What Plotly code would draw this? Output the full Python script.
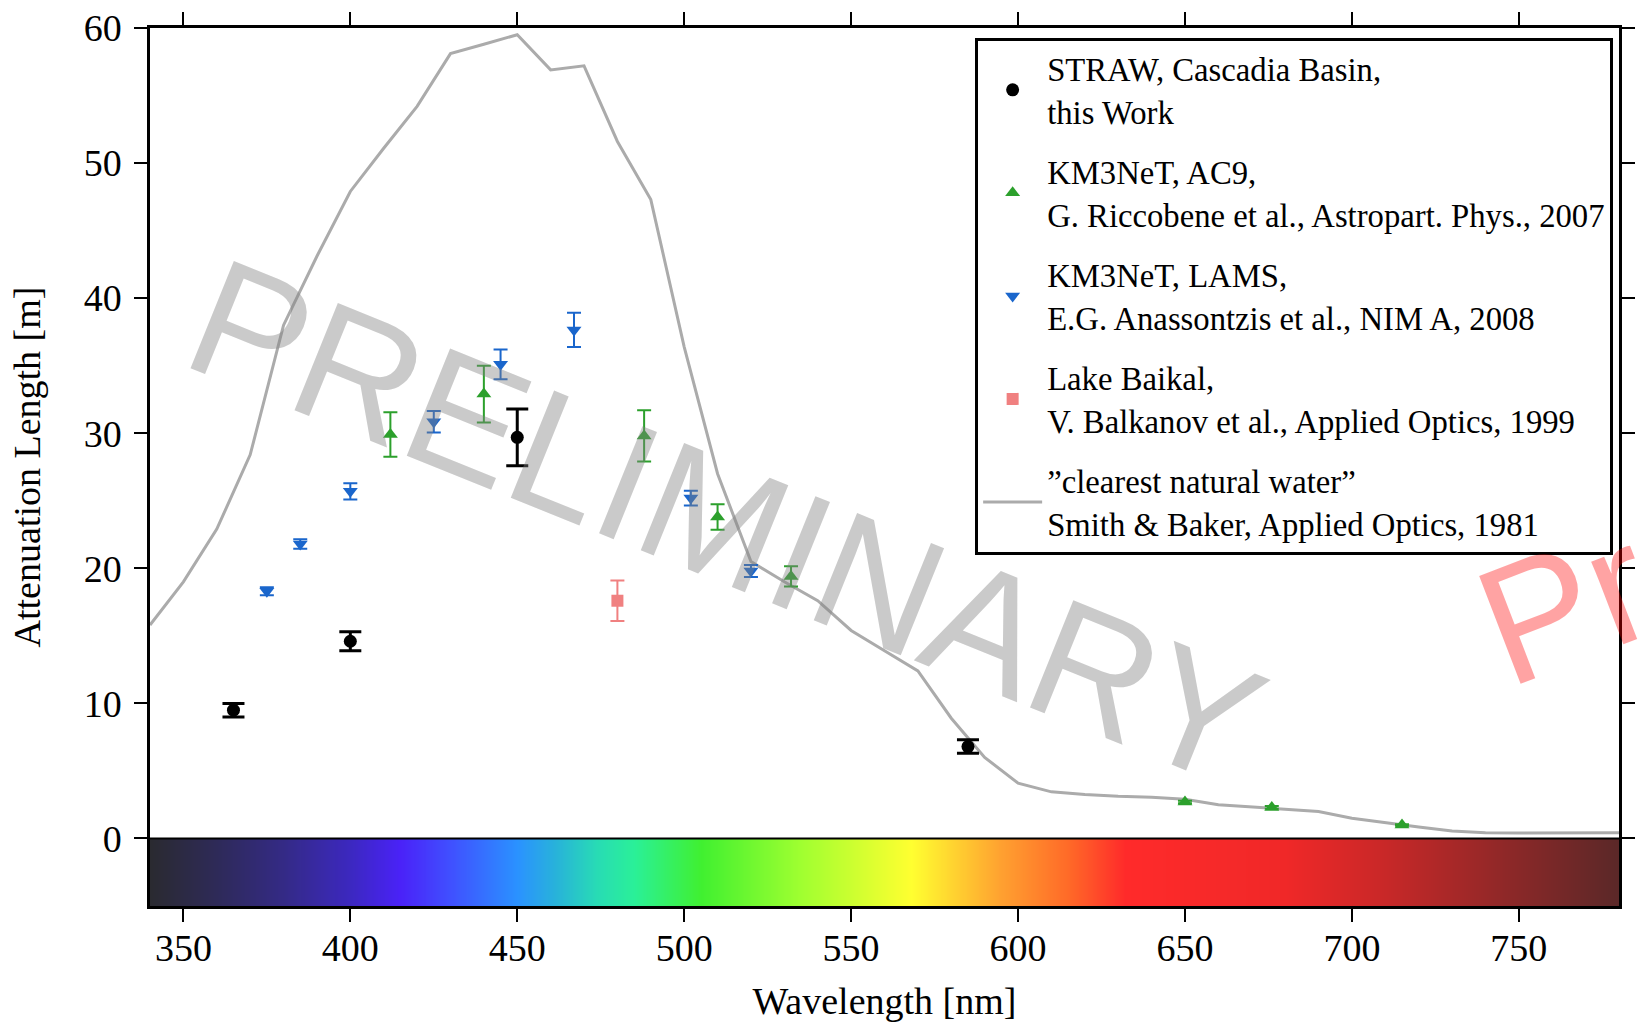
import numpy as np
import plotly.graph_objects as go

# ---- Smith & Baker "clearest natural water" attenuation length ----
sb_wl = [340, 350, 360, 370, 380, 390, 400, 410, 420, 430, 440, 450, 460, 470,
         480, 490, 500, 510, 520, 530, 540, 550, 560, 570, 580, 590, 600, 610,
         620, 630, 640, 650, 660, 670, 680, 690, 700, 710, 720, 730, 740, 750,
         760, 770, 780]
sb_len = [15.8, 19.0, 22.9, 28.4, 38.0, 43.1, 47.9, 51.1, 54.2, 58.1, 58.8, 59.5,
          56.9, 57.2, 51.6, 47.3, 36.4, 27.0, 20.5, 19.0, 17.6, 15.4, 13.9, 12.4,
          8.9, 6.0, 4.1, 3.45, 3.25, 3.12, 3.05, 2.9, 2.5, 2.33, 2.2, 2.0, 1.5,
          1.15, 0.85, 0.56, 0.43, 0.40, 0.39, 0.40, 0.42]

# ---- STRAW, Cascadia Basin ----
straw_wl = [365, 400, 450, 585]
straw_len = [9.5, 14.6, 29.7, 6.8]
straw_err = [0.5, 0.7, 2.1, 0.5]

# ---- KM3NeT AC9 ----
ac9_wl = [412, 440, 488, 510, 532, 650, 676, 715]
ac9_len = [29.9, 32.9, 29.8, 23.8, 19.4, 2.7, 2.3, 1.0]
ac9_err = [1.65, 2.1, 1.9, 0.95, 0.75, 0.1, 0.1, 0.05]

# ---- KM3NeT LAMS ----
lams_wl = [375, 385, 400, 425, 445, 467, 502, 520]
lams_len = [18.3, 21.8, 25.7, 30.85, 35.1, 37.65, 25.2, 19.8]
lams_err = [0.3, 0.35, 0.6, 0.8, 1.1, 1.27, 0.55, 0.45]

# ---- Lake Baikal ----
baikal_wl = [480]
baikal_len = [17.6]
baikal_err = [1.5]

# ---- spectrum colour band ----
spec_wl = [340, 360, 380, 400, 415, 430, 450, 462, 474, 485, 505, 535, 568,
           595, 615, 632, 680, 710, 745, 780]
spec_col = ["#2a2a30", "#2e2a58", "#342a86", "#3c28c0", "#4a22f8", "#4050ff",
            "#2a92ff", "#28b4d8", "#28dcb4", "#2af098", "#40f030", "#a0ff30",
            "#ffff30", "#ffa030", "#ff6a28", "#ff2a2a", "#f02828", "#c82828",
            "#902828", "#5a2828"]

x_ticks = [350, 400, 450, 500, 550, 600, 650, 700, 750]
y_ticks = [0, 10, 20, 30, 40, 50, 60]
x_range = [340, 780]
y_range = [-5, 60]
band_bottom = -5

serif = "Liberation Serif"

lo, hi = spec_wl[0], spec_wl[-1]
colorscale = [[(w - lo) / (hi - lo), c] for w, c in zip(spec_wl, spec_col)]
band_x = np.arange(lo, hi + 1, 1)

fig = go.Figure()

fig.add_trace(go.Heatmap(
    x=band_x, z=[band_x], y0=band_bottom / 2, dy=-band_bottom,
    colorscale=colorscale, zmin=lo, zmax=hi, showscale=False,
    hoverinfo="skip", zsmooth="best", showlegend=False))

fig.add_trace(go.Scatter(
    x=sb_wl, y=sb_len, mode="lines",
    line=dict(color="#ababab", width=3),
    name="\u201dclearest natural water\u201d<br>Smith &amp; Baker, Applied Optics, 1981",
    legendrank=5, legendgroup="e"))

def pts(x, y, e, color, symbol, size, capw, thick, name, rank, grp):
    return go.Scatter(
        x=x, y=y, mode="markers",
        marker=dict(color=color, symbol=symbol, size=size, line=dict(width=0)),
        error_y=dict(type="data", array=e, visible=True, color=color,
                     thickness=thick, width=capw),
        name=name, legendrank=rank, legendgroup=grp)

fig.add_trace(pts(baikal_wl, baikal_len, baikal_err, "#f08080", "square", 12, 7, 2,
                  "Lake Baikal,<br>V. Balkanov et al., Applied Optics, 1999", 4, "d"))
fig.add_trace(pts(lams_wl, lams_len, lams_err, "#1a66cc", "triangle-down", 13, 7, 2,
                  "KM3NeT, LAMS,<br>E.G. Anassontzis et al., NIM A, 2008", 3, "c"))
fig.add_trace(pts(ac9_wl, ac9_len, ac9_err, "#2ca02c", "triangle-up", 13, 7, 2,
                  "KM3NeT, AC9,<br>G. Riccobene et al., Astropart. Phys., 2007", 2, "b"))
fig.add_trace(pts(straw_wl, straw_len, straw_err, "black", "circle", 13, 11, 3,
                  "STRAW, Cascadia Basin,<br>this Work", 1, "a"))

fig.add_shape(type="line", xref="paper", yref="y", x0=0, x1=1, y0=0, y1=0,
              line=dict(color="black", width=2))

fig.add_annotation(text="PRELIMINARY", xref="paper", yref="paper", x=0.392, y=0.437,
                   xanchor="center", yanchor="middle",
                   showarrow=False, textangle=22,
                   font=dict(family="Liberation Sans", size=168,
                             color="rgba(128,128,128,0.42)"))
fig.add_annotation(text="Preliminary", xref="paper", yref="paper", x=1.177, y=0.481,
                   xanchor="center", yanchor="middle",
                   showarrow=False, textangle=-21,
                   font=dict(family="Liberation Sans", size=168,
                             color="rgba(255,0,0,0.36)"))

axis_common = dict(showline=True, linecolor="black", linewidth=2.5, mirror="ticks",
                   ticks="outside", ticklen=13, tickwidth=2, tickcolor="black",
                   showgrid=False, zeroline=False,
                   tickfont=dict(family=serif, size=38, color="black"))

fig.update_xaxes(range=x_range, tickvals=x_ticks, ticklabelstandoff=-6,
                 title=dict(text="Wavelength [nm]", standoff=20,
                            font=dict(family=serif, size=38, color="black")),
                 **axis_common)
fig.update_yaxes(range=y_range, tickvals=y_ticks, ticklabelstandoff=5,
                 title=dict(text="Attenuation Length [m]", standoff=32,
                            font=dict(family=serif, size=38, color="black")),
                 **axis_common)

fig.update_layout(
    width=1640, height=1023,
    margin=dict(l=150, r=5, t=28, b=117),
    paper_bgcolor="white", plot_bgcolor="white",
    showlegend=True,
    legend=dict(x=0.5617, y=0.9888, xanchor="left", yanchor="top",
                bordercolor="black", borderwidth=3, bgcolor="white",
                font=dict(family=serif, size=32.7, color="black"),
                tracegroupgap=15, itemwidth=59, valign="middle",
                traceorder="grouped"),
)

fig.write_html("out.html")
